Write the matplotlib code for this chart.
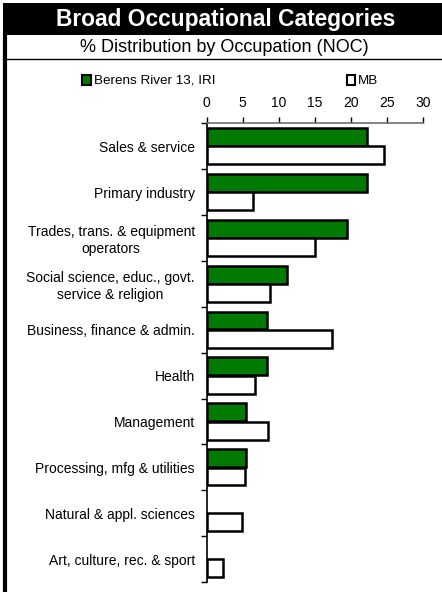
import matplotlib
matplotlib.use("Agg")
import matplotlib.pyplot as plt
from matplotlib.patches import Rectangle
from matplotlib.lines import Line2D
import numpy as np

plt.rcParams['font.family'] = ['Liberation Sans', 'DejaVu Sans']

# Chart data
categories = [
    "Sales & service",
    "Primary industry",
    "Trades, trans. & equipment\noperators",
    "Social science, educ., govt.\nservice & religion",
    "Business, finance & admin.",
    "Health",
    "Management",
    "Processing, mfg & utilities",
    "Natural & appl. sciences",
    "Art, culture, rec. & sport",
]
berens = [22.2, 22.2, 19.4, 11.1, 8.3, 8.3, 5.5, 5.5, 0, 0]
mb = [24.6, 6.4, 15.0, 8.8, 17.4, 6.7, 8.5, 5.3, 4.9, 2.3]
series_names = ["Berens River 13, IRI", "MB"]
xticks = [0, 5, 10, 15, 20, 25, 30]

W, H = 442, 592
fig = plt.figure(figsize=(W / 100, H / 100), dpi=100)

def fx(px):
    return px / W

def fy(py):
    return 1 - py / H

# Title band and frame lines
fig.add_artist(Rectangle((fx(3), fy(35)), fx(442) - fx(3), fy(3) - fy(35),
                         transform=fig.transFigure, color='black', lw=0))
fig.add_artist(Line2D([fx(5), fx(5)], [fy(35), fy(592)], transform=fig.transFigure,
                      color='black', lw=3))
fig.add_artist(Line2D([fx(3), fx(442)], [fy(59.3), fy(59.3)], transform=fig.transFigure,
                      color='black', lw=1))
fig.text(fx(226), fy(19.5), "Broad Occupational Categories", color='white',
         fontsize=16.4, fontweight='bold', ha='center', va='center')
fig.text(fx(224.5), fy(47), "% Distribution by Occupation (NOC)", color='black',
         fontsize=13, ha='center', va='center')

# Legend, placed by hand like the original
green = '#007a00'
fig.add_artist(Rectangle((fx(81.5), fy(85)), fx(9), fy(75) - fy(85),
                         transform=fig.transFigure, facecolor=green,
                         edgecolor='black', lw=1.5))
fig.text(fx(94.5), fy(80.5), series_names[0], fontsize=9.7, ha='left', va='center')
fig.add_artist(Rectangle((fx(346.5), fy(85)), fx(8), fy(75) - fy(85),
                         transform=fig.transFigure, facecolor='white',
                         edgecolor='black', lw=1.5))
fig.text(fx(358), fy(80.5), series_names[1], fontsize=9.7, ha='left', va='center')

# Bars (zero values get no outline, as in the original)
ax = fig.add_axes([fx(206.7), fy(582), fx(423.3) - fx(206.7), fy(123.3) - fy(582)])
y = np.arange(len(categories))
h = 0.39
ax.barh(y - 0.2, berens, height=h, color=green, edgecolor='black',
        linewidth=[1.8 if v > 0 else 0 for v in berens])
ax.barh(y + 0.2, mb, height=h, color='white', edgecolor='black',
        linewidth=[1.8 if v > 0 else 0 for v in mb])

ax.set_xlim(0, 30)
ax.set_ylim(len(categories) - 0.5, -0.5)
ax.xaxis.tick_top()
ax.set_xticks(xticks)
ax.tick_params(axis='x', direction='out', length=4, width=1, pad=5.5, labelsize=10)

ax.set_yticks(y)
ax.set_yticklabels(categories, fontsize=10)
for lab in ax.get_yticklabels():
    lab.set_multialignment('center')
ax.tick_params(axis='y', which='major', length=0, pad=8.5)
ax.set_yticks(np.arange(len(categories) + 1) - 0.5, minor=True)
ax.tick_params(axis='y', which='minor', direction='out', length=4, width=1)

for s in ['right', 'bottom']:
    ax.spines[s].set_visible(False)
ax.spines['top'].set_color('#707070')
ax.spines['top'].set_linewidth(1.2)
ax.spines['left'].set_linewidth(1.2)
ax.patch.set_alpha(0)

fig.savefig("out.png", dpi=100)
